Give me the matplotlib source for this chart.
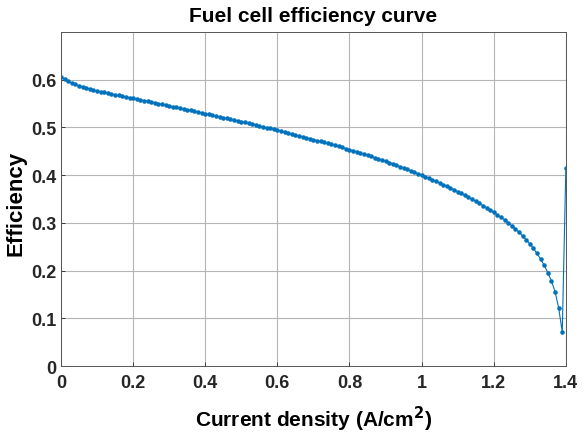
import numpy as np
import matplotlib
matplotlib.use('Agg')
import matplotlib.pyplot as plt

plt.rcParams['font.family'] = ['Liberation Sans', 'DejaVu Sans']
plt.rcParams['font.weight'] = 'bold'

# current density grid, 0 : 0.01 : 1.4
current_density = np.round(np.arange(0, 141) * 0.01, 2)

# efficiency
efficiency = [
    0.6050, 0.6005, 0.5965, 0.5930, 0.5899, 0.5871, 0.5846, 0.5823, 0.5802, 0.5783,
    0.5765, 0.5748, 0.5731, 0.5715, 0.5699, 0.5683, 0.5668, 0.5653, 0.5638, 0.5623,
    0.5608, 0.5593, 0.5577, 0.5562, 0.5546, 0.5531, 0.5515, 0.5500, 0.5484, 0.5469,
    0.5453, 0.5437, 0.5421, 0.5405, 0.5389, 0.5372, 0.5356, 0.5340, 0.5323, 0.5307,
    0.5290, 0.5273, 0.5256, 0.5239, 0.5222, 0.5205, 0.5188, 0.5171, 0.5154, 0.5137,
    0.5120, 0.5103, 0.5085, 0.5067, 0.5049, 0.5031, 0.5013, 0.4995, 0.4977, 0.4959,
    0.4940, 0.4921, 0.4902, 0.4883, 0.4864, 0.4844, 0.4825, 0.4805, 0.4785, 0.4765,
    0.4745, 0.4725, 0.4705, 0.4684, 0.4663, 0.4642, 0.4621, 0.4600, 0.4579, 0.4557,
    0.4535, 0.4512, 0.4489, 0.4466, 0.4442, 0.4418, 0.4393, 0.4368, 0.4343, 0.4317,
    0.4290, 0.4263, 0.4236, 0.4208, 0.4180, 0.4151, 0.4121, 0.4091, 0.4061, 0.4030,
    0.3998, 0.3967, 0.3935, 0.3903, 0.3870, 0.3836, 0.3802, 0.3767, 0.3731, 0.3694,
    0.3656, 0.3617, 0.3577, 0.3536, 0.3494, 0.3451, 0.3407, 0.3362, 0.3316, 0.3269,
    0.3221, 0.3171, 0.3118, 0.3062, 0.3003, 0.2940, 0.2873, 0.2802, 0.2726, 0.2645,
    0.2558, 0.2463, 0.2358, 0.2240, 0.2108, 0.1958, 0.1780, 0.1560, 0.1220, 0.0710,
    0.4150,
]

xticks = [0, 0.2, 0.4, 0.6, 0.8, 1.0, 1.2, 1.4]
xtick_labels = ['0', '0.2', '0.4', '0.6', '0.8', '1', '1.2', '1.4']
yticks = [0, 0.1, 0.2, 0.3, 0.4, 0.5, 0.6]
ytick_labels = ['0', '0.1', '0.2', '0.3', '0.4', '0.5', '0.6']

fig = plt.figure(figsize=(5.83, 4.39), dpi=100)
ax = fig.add_axes([0.1046, 0.164, 0.866, 0.761])

ax.plot(current_density, efficiency, color='#0072BD', linewidth=0.8,
        marker='.', markersize=4.5)

ax.set_xlim(0, 1.4)
ax.set_ylim(0, 0.7)
ax.set_xticks(xticks)
ax.set_xticklabels(xtick_labels)
ax.set_yticks(yticks)
ax.set_yticklabels(ytick_labels)
ax.tick_params(direction='in', length=3, labelsize=13, colors='#262626',
               width=0.6)
ax.tick_params(axis='x', pad=6)
ax.tick_params(axis='y', pad=3)
ax.grid(True, color='#b5b5b5', linewidth=0.8)
ax.set_axisbelow(True)
for s in ax.spines.values():
    s.set_color('#555555')
    s.set_linewidth(0.7)

ax.set_title('Fuel cell efficiency curve', fontsize=15, fontweight='bold', pad=8)
ax.set_xlabel('Current density (A/cm$^2$)', fontsize=15, fontweight='bold', labelpad=9)
ax.set_ylabel('Efficiency', fontsize=16, fontweight='bold')
ax.yaxis.set_label_coords(-0.068, 0.49)

fig.savefig('out.png', dpi=100)
